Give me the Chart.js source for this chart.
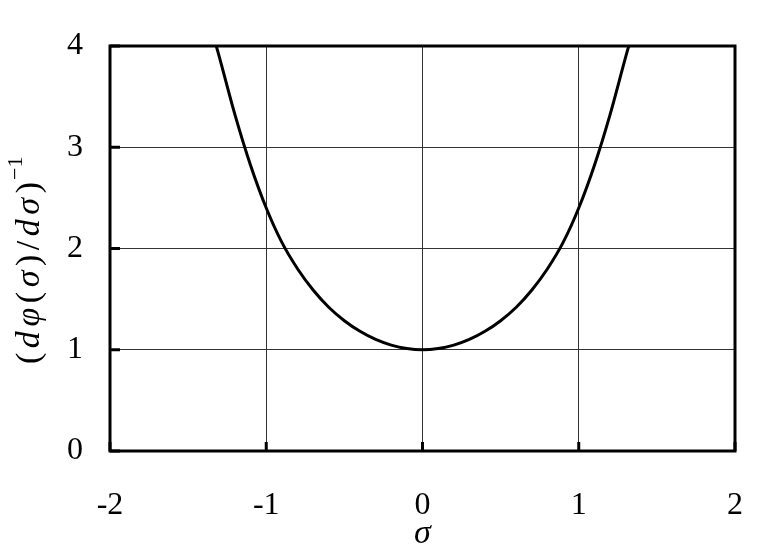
<!DOCTYPE html>
<html>
<head>
<meta charset="utf-8">
<script src="https://cdn.jsdelivr.net/npm/chart.js@4.4.0/dist/chart.umd.min.js"></script>
<style>
html,body{margin:0;padding:0;background:#fff;}
#wrap{width:769px;height:551px;position:relative;}
</style>
</head>
<body>
<div id="wrap"><canvas id="c" width="769" height="551"></canvas></div>
<script>
// ---- data ----
const sigma = [-1.32,-1.3,-1.2,-1.1,-1.0,-0.9,-0.8,-0.7,-0.6,-0.5,-0.4,-0.3,-0.2,-0.1,0,
               0.1,0.2,0.3,0.4,0.5,0.6,0.7,0.8,0.9,1.0,1.1,1.2,1.3,1.32];
const invDeriv = [4.0,3.89,3.32,2.82,2.40,2.06,1.80,1.59,1.42,1.287,1.182,1.102,1.046,1.012,1.0,
                  1.012,1.046,1.102,1.182,1.287,1.42,1.59,1.80,2.06,2.40,2.82,3.32,3.89,4.0];
const xTicks = [-2,-1,0,1,2];
const yTicks = [0,1,2,3,4];
const xLabel = 'σ';
const yLabelParts = [['(',false],['d',true],['φ',true],['(',false],['σ',true],[')',false],['/',false],['d',true],['σ',true],[')',false]];
const yLabelSup = '−1';

const SERIF = '"Liberation Serif","Times New Roman",serif';

const framePlugin = {
  id:'frame',
  afterDatasetsDraw(chart){
    const {ctx, chartArea:a, scales} = chart;
    ctx.save();
    ctx.strokeStyle = '#000';
    ctx.lineWidth = 3;
    xTicks.forEach(v=>{
      const px = scales.x.getPixelForValue(v);
      ctx.beginPath(); ctx.moveTo(px, a.bottom); ctx.lineTo(px, a.bottom-9); ctx.stroke();
    });
    yTicks.forEach(v=>{
      const py = scales.y.getPixelForValue(v);
      ctx.beginPath(); ctx.moveTo(a.left, py); ctx.lineTo(a.left+10, py); ctx.stroke();
    });
    ctx.lineWidth = 3;
    ctx.strokeRect(a.left, a.top, a.right-a.left, a.bottom-a.top);
    ctx.restore();
  },
  afterDraw(chart){
    const {ctx} = chart;
    ctx.save();
    const main = 34, sup = 22;
    const targetLen = 182;
    let widths = yLabelParts.map(([t,it])=>{
      ctx.font = (it?'italic ':'') + main + 'px ' + SERIF;
      return ctx.measureText(t).width;
    });
    const tw = widths.reduce((s,w)=>s+w,0);
    const gap = Math.max(0,(targetLen - tw)/(yLabelParts.length-1));
    const cy = 273, bx = 39;
    ctx.translate(bx, cy);
    ctx.rotate(-Math.PI/2);
    ctx.fillStyle = '#000';
    ctx.textBaseline = 'alphabetic';
    ctx.textAlign = 'left';
    let x = -targetLen/2;
    yLabelParts.forEach(([t,it],i)=>{
      ctx.font = (it?'italic ':'') + main + 'px ' + SERIF;
      ctx.fillText(t, x, 0);
      x += widths[i] + gap;
    });
    ctx.font = sup + 'px ' + SERIF;
    ctx.fillText(yLabelSup, x - gap + 2, -17);
    ctx.restore();
  }
};

new Chart(document.getElementById('c'), {
  type:'scatter',
  data:{
    datasets:[{
      data: sigma.map((s,i)=>({x:s,y:invDeriv[i]})),
      showLine:true,
      borderColor:'#000',
      borderWidth:3,
      pointRadius:0,
      cubicInterpolationMode:'monotone',
      fill:false
    }]
  },
  options:{
    responsive:false,
    animation:false,
    layout:{padding:{left:0,right:34,top:46,bottom:0}},
    plugins:{legend:{display:false},tooltip:{enabled:false}},
    scales:{
      x:{
        type:'linear', min:-2, max:2,
        afterBuildTicks:s=>{s.ticks = xTicks.map(v=>({value:v}));},
        afterFit:s=>{s.height = 100; s.paddingLeft = 0; s.paddingRight = 0;},
        grid:{color:'#333', lineWidth:1, drawTicks:false},
        border:{display:false},
        ticks:{font:{family:SERIF,size:32}, color:'#000', padding:35, maxRotation:0, autoSkip:false},
        title:{display:true, text:xLabel, color:'#000', font:{family:SERIF,size:34,style:'italic',lineHeight:1}, padding:{top:0,bottom:0}}
      },
      y:{
        type:'linear', min:0, max:4,
        afterBuildTicks:s=>{s.ticks = yTicks.map(v=>({value:v}));},
        afterFit:s=>{s.width = 110; s.paddingTop = 0; s.paddingBottom = 0;},
        grid:{color:'#333', lineWidth:1, drawTicks:false},
        border:{display:false},
        ticks:{font:{family:SERIF,size:32}, color:'#000', padding:27, autoSkip:false}
      }
    }
  },
  plugins:[framePlugin]
});
</script>
</body>
</html>
